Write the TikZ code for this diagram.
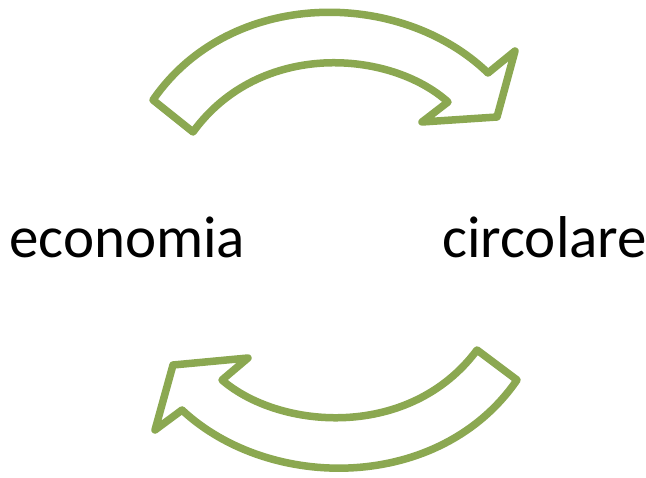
\documentclass[tikz,border=0pt]{standalone}
\usepackage{fontspec}
\setmainfont{Carlito}
\definecolor{arrowgreen}{HTML}{8BA851}
\tikzset{
  blockarrow/.style={draw=arrowgreen, line width=7.5pt, line join=round, fill=white},
  label/.style={inner sep=0pt, anchor=base west, font=\fontsize{59}{62}\selectfont}
}
\begin{document}
\begin{tikzpicture}[x=1pt,y=-1pt]
\useasboundingbox (0,0) rectangle (646,478);
% top arrow
\draw[blockarrow] (153,100) .. controls (230,-12) and (400,-12) .. (488,73)
  -- (515,51) -- (497,117) -- (422,122) -- (448,102)
  .. controls (390,50) and (260,40) .. (193,132) -- cycle;
% bottom arrow
\draw[blockarrow] (517,380) .. controls (440,492) and (270,492) .. (182,410)
  -- (155,430) -- (173,365) -- (248,358) -- (222,380)
  .. controls (280,430) and (410,440) .. (477,350) -- cycle;
\node[label] (eco) at (9,258) {economia};
\node[label] (circ) at (442,258) {circolare};
\end{tikzpicture}
\end{document}
